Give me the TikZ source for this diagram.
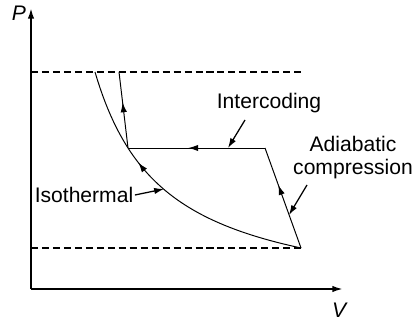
\documentclass[tikz,border=0pt]{standalone}
\usepackage{fontspec}
\setmainfont{Liberation Sans}
\usetikzlibrary{arrows.meta,decorations.markings}

\begin{document}
\begin{tikzpicture}[
    x=0.025cm, y=0.025cm,
    font=\fontsize{15}{16.4}\selectfont,
    axis/.style={-{Latex[length=7.5pt,width=4.5pt]}, line width=1.3pt},
    limit/.style={dash pattern=on 5pt off 2.8pt, line width=1pt},
    curve/.style={line width=0.7pt},
    midarr/.style={curve, postaction={decorate}, decoration={markings, mark=at position #1 with {\arrow{Latex[length=7pt,width=4.5pt]}}}},
    lbl/.style={-{Latex[length=7pt,width=4.5pt]}, line width=0.9pt}
]
\useasboundingbox (-31,-33) rectangle (387,289);

% axes
\coordinate (O) at (0,0);
\coordinate (ytop) at (0,281);
\coordinate (xend) at (312,0);
\node (P) at (-12,276) {\textit{P}};
\node (V) at (309,-21) {\textit{V}};
\draw[axis] (O) -- (ytop);
\draw[axis] (O) -- (xend);

% pressure limits
\coordinate (hiL) at (0,217);
\coordinate (hiR) at (271,217);
\coordinate (loL) at (0,41);
\coordinate (loR) at (271,41);
\draw[limit] (hiL) -- (hiR);
\draw[limit] (loL) -- (loR);

% cycle points
\coordinate (A) at (64,217);
\coordinate (B) at (97,141);
\coordinate (C) at (234,141);
\coordinate (D) at (270,41);
\coordinate (E) at (88,217);

% isothermal curve, from D up to A
\draw[midarr=0.65] plot[domain=0:206, samples=80] ({270-\x},{162.08/(275-\x)*100-17.9});

\draw[midarr=0.63] (D) -- (C);
\draw[midarr=0.56] (C) -- (B);
\draw[midarr=0.6] (B) -- (E);

% labels
\node (lblcool) at (238,186) {Intercoding};
\node[align=center] (lbladia) at (322,131) {Adiabatic\\compression};
\node[inner sep=1pt] (lbliso) at (53,94) {Isothermal};
\coordinate (isopt) at (133,100);
\coordinate (adiapt) at (258,74);
\coordinate (coolpt) at (197,141);

\draw[lbl] ([shift={(-24,-17)}]lblcool.center) -- (coolpt);
\draw[lbl] ([shift={(-46,-27)}]lbladia.center) -- (adiapt);
\draw[lbl] (lbliso.east) -- (isopt);
\end{tikzpicture}
\end{document}
